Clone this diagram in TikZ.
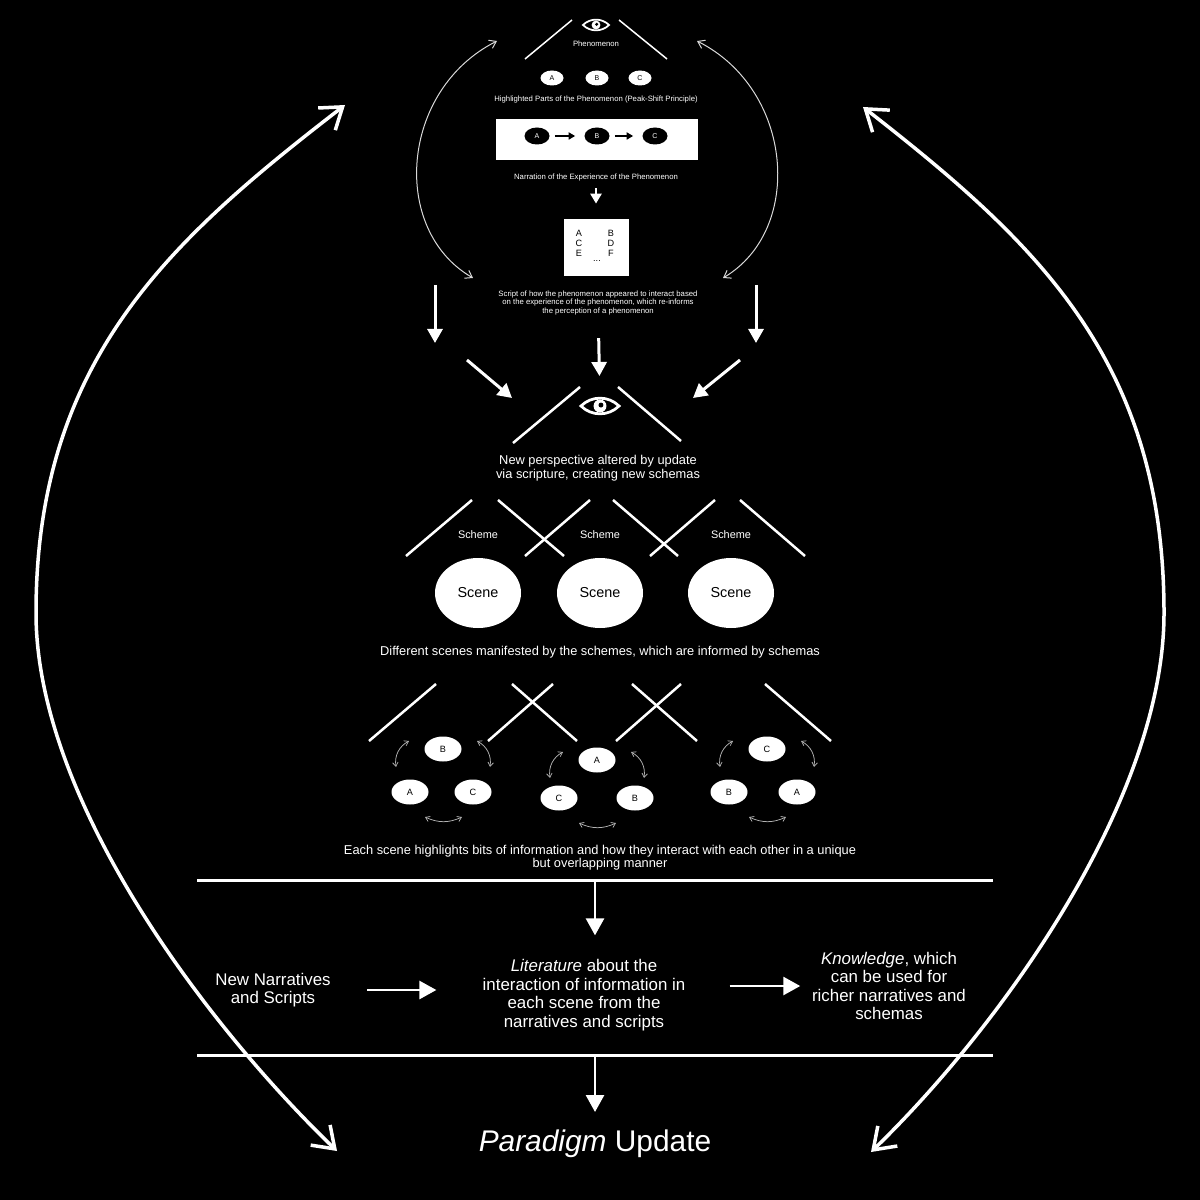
\documentclass[tikz,border=0pt]{standalone}
\usepackage{fontspec}
\setmainfont{Liberation Sans}
\usetikzlibrary{positioning, calc, arrows.meta, shapes.geometric}

\tikzset{
  eye/.pic={
    \coordinate (-c) at (0,0);
    \draw[white, fill=black] (-1,0) .. controls (-0.45,-0.55) and (0.45,-0.55) .. (1,0)
      .. controls (0.45,0.55) and (-0.45,0.55) .. (-1,0) -- cycle;
    \fill[white] (0,0) circle (0.34);
    \fill[black] (0.05,-0.05) circle (0.13);
  }
}

\begin{document}
\begin{tikzpicture}[x=0.2mm, y=-0.2mm, on grid,
    lbl/.style={text=white, align=center, inner sep=0pt},
    tinylbl/.style={lbl, font=\fontsize{4.4}{4.6}\selectfont},
    schemelbl/.style={lbl, font=\fontsize{6.2}{6.4}\selectfont},
    eachlbl/.style={lbl, font=\fontsize{7.3}{7.3}\selectfont},
    smalllbl/.style={lbl, font=\fontsize{7.3}{8}\selectfont},
    midlbl/.style={lbl, font=\fontsize{9.6}{10.6}\selectfont},
    hilite/.style={ellipse, fill=white, text=black, inner sep=0pt, minimum width=4.6mm, minimum height=3mm, font=\fontsize{4}{4}\selectfont},
    dark/.style={hilite, fill=black, text=white, minimum width=5mm, minimum height=3.4mm},
    narrbox/.style={rectangle, fill=white, inner sep=0pt, minimum width=40.4mm, minimum height=8.2mm},
    scriptbox/.style={rectangle, fill=white, inner sep=0pt, minimum width=13mm, minimum height=11.4mm},
    boxletter/.style={text=black, inner sep=0pt, font=\fontsize{5.2}{5.2}\selectfont},
    scene/.style={ellipse, fill=white, text=black, inner sep=0pt, minimum width=17.2mm, minimum height=14mm, font=\fontsize{8.2}{8.2}\selectfont},
    bit/.style={ellipse, fill=white, text=black, inner sep=0pt, minimum width=7.4mm, minimum height=5mm, font=\fontsize{5.2}{5.2}\selectfont},
    thinroof/.style={white, line width=0.3mm},
    roof/.style={white, line width=0.5mm},
    bar/.style={white, line width=0.6mm},
    tinyarrow/.style={black, line width=0.35mm, -{Triangle[length=1.3mm, width=1.4mm]}},
    smallarrow/.style={white, line width=0.5mm, -{Triangle[length=2mm, width=2.2mm]}},
    midarrow/.style={white, line width=0.6mm, -{Triangle[length=2.8mm, width=3mm]}},
    blk/.style={white, line width=0.55mm, -{Triangle[length=3.4mm, width=3.6mm]}},
    bigarc/.style={white, line width=0.7mm, {Straight Barb[length=4mm, width=5.6mm]}-{Straight Barb[length=4mm, width=5.6mm]}},
    thinarc/.style={white!85!black, line width=0.2mm, {Straight Barb[length=1.3mm, width=1.8mm]}-{Straight Barb[length=1.3mm, width=1.8mm]}},
    bitarc/.style={white!70!black, line width=0.15mm, {Straight Barb[length=0.8mm, width=1.1mm]}-{Straight Barb[length=0.8mm, width=1.1mm]}}]
  \path[use as bounding box, fill=black] (0,0) rectangle (1200,1200);

  % phenomenon and its parts
  \pic[scale=13, line width=0.35mm] (eyeA) at (596,25) {eye};
  \draw[thinroof] (525,59) -- (572,20);
  \draw[thinroof] (619,20) -- (667,59);
  \node[tinylbl] (phen) at (596,44) {Phenomenon};
  \node[hilite] (hA) at (552,78) {A};
  \node[hilite] (hB) [right=9mm of hA] {B};
  \node[hilite] (hC) [right=8.6mm of hB] {C};
  \node[tinylbl] (peak) at (596,100) {Highlighted Parts of the Phenomenon (Peak-Shift Principle)};

  \node[narrbox] (narr) at (597,139.5) {};
  \node[dark] (nA) at (537,136) {A};
  \node[dark] (nB) [right=12mm of nA] {B};
  \node[dark] (nC) [right=11.6mm of nB] {C};
  \draw[tinyarrow, shorten <=1mm, shorten >=1.8mm] (nA) -- (nB);
  \draw[tinyarrow, shorten <=1mm, shorten >=1.8mm] (nB) -- (nC);
  \node[tinylbl] (narrTxt) at (596,178) {Narration of the Experience of the Phenomenon};

  \node[scriptbox] (script) at (596,247.5) {};
  \foreach \a/\b [count=\k] in {A/B, C/D, E/F} {
    \node[boxletter] (sl\k) at (579,223+10*\k) {\a};
    \node[boxletter] (sr\k) at (611,223+10*\k) {\b};
  }
  \node[boxletter] (dots) at (597,261) {...};
  \draw[smallarrow, shorten <=1.3mm, shorten >=3mm] (narrTxt) -- (script);
  \node[tinylbl] (scrTxt) at (598,303) {Script of how the phenomenon appeared to interact based\\on the experience of the phenomenon, which re-informs\\the perception of a phenomenon};

  % thin loops round the phenomenon
  \coordinate (tl1) at (497,41); \coordinate (tl2) at (473,278);
  \coordinate (tr1) at (697,41); \coordinate (tr2) at (723,278);
  \draw[thinarc] (tl1) .. controls (400,90) and (390,230) .. (tl2);
  \draw[thinarc] (tr1) .. controls (794,90) and (804,230) .. (tr2);

  % into the new perspective
  \pic[scale=19, line width=0.55mm] (eyeB) at (600,406) {eye};
  \coordinate (dL1) at (435,285); \coordinate (dL2) at (435,343);
  \coordinate (dR1) at (756,285); \coordinate (dR2) at (756,343);
  \coordinate (gL1) at (467,360); \coordinate (gL2) at (512,398);
  \coordinate (gR1) at (740,360); \coordinate (gR2) at (693,398);
  \draw[midarrow] (dL1) -- (dL2);
  \draw[midarrow] (dR1) -- (dR2);
  \draw[midarrow] (gL1) -- (gL2);
  \draw[midarrow] (gR1) -- (gR2);
  \draw[midarrow, shorten <=4.6mm, shorten >=6mm] (scrTxt) -- (eyeB-c);
  \draw[roof] (513,443) -- (580,387);
  \draw[roof] (618,387) -- (681,441);
  \node[smalllbl] (persp) at (598,468) {New perspective altered by update\\via scripture, creating new schemas};

  % schemes and scenes
  \foreach \xa/\ya/\xb/\yb in {406/556/472/500, 498/500/564/556, 525/556/590/500,
                               613/500/678/556, 650/556/715/500, 740/500/805/556}
    \draw[roof] (\xa,\ya) -- (\xb,\yb);
  \foreach \x [count=\n] in {478, 600, 731} {
    \node[schemelbl] (sch\n) at (\x,535) {Scheme};
    \node[scene] (scn\n) at (\x,593) {Scene};
  }
  \node[smalllbl] (diff) at (600,652) {Different scenes manifested by the schemes, which are informed by schemas};

  % bits of information
  \foreach \xa/\ya/\xb/\yb in {369/741/436/684, 488/741/553/684, 512/684/577/741,
                               616/741/681/684, 632/684/697/741, 765/684/831/741}
    \draw[roof] (\xa,\ya) -- (\xb,\yb);
  \foreach \x/\y/\t/\l/\r/\dl/\dr/\dy [count=\i] in {443/749/B/A/C/33/30/43,
      597/760/A/C/B/38/38/38, 767/749/C/B/A/38/30/43} {
    \node[bit] (top\i) at (\x,\y) {\t};
    \node[bit] (lef\i) at (\x-\dl,\y+\dy) {\l};
    \node[bit] (rig\i) at (\x+\dr,\y+\dy) {\r};
    \draw[bitarc] ($(top\i)+(-34,-8)$) to[bend right=35] ($(top\i)+(-47,18)$);
    \draw[bitarc] ($(top\i)+(34,-8)$) to[bend left=35] ($(top\i)+(47,18)$);
    \draw[bitarc] ($(top\i)+(-18,\dy+25)$) to[bend right=25] ($(top\i)+(19,\dy+25)$);
  }
  \node[eachlbl] (each) at (600,858) {Each scene highlights bits of information and how they interact with each other in a unique\\but overlapping manner};

  % literature and knowledge
  \draw[bar] (197,880) -- (993,880);
  \draw[bar] (197,1055) -- (993,1055);
  \coordinate (barA) at (595,880);
  \coordinate (barB) at (595,1055);
  \node[midlbl] (newN) at (273,990) {New Narratives\\and Scripts};
  \node[midlbl] (lit) at (584,995) {\textit{Literature} about the\\interaction of information in\\each scene from the\\narratives and scripts};
  \node[midlbl] (know) at (889,986) {\textit{Knowledge}, which\\can be used for\\richer narratives and\\schemas};
  \node[lbl, font=\fontsize{17}{17}\selectfont, anchor=base] (para) at (595,1151) {\textit{Paradigm} Update};
  \draw[blk, shorten >=4.7mm] (barA) -- (barA |- lit.north);
  \draw[blk, shorten >=3.4mm] (barB) -- (barB |- para.north);
  \draw[blk, shorten <=7.2mm, shorten >=9.2mm] (newN.east) -- (newN.east -| lit.west);
  \draw[blk, shorten <=8.8mm, shorten >=2.3mm] (know.west -| lit.east) -- (know.west);

  % paradigm loops
  \coordinate (bigL1) at (337,1151); \coordinate (bigL2) at (345,105);
  \coordinate (bigR1) at (871,1152); \coordinate (bigR2) at (863,107);
  \draw[bigarc] (bigL1) .. controls (207,1026) and (36,800) .. (36,613)
    .. controls (36,360) and (170,240) .. (bigL2);
  \draw[bigarc] (bigR1) .. controls (1000,1027) and (1164,800) .. (1164,613)
    .. controls (1164,360) and (1036,242) .. (bigR2);
\end{tikzpicture}
\end{document}
